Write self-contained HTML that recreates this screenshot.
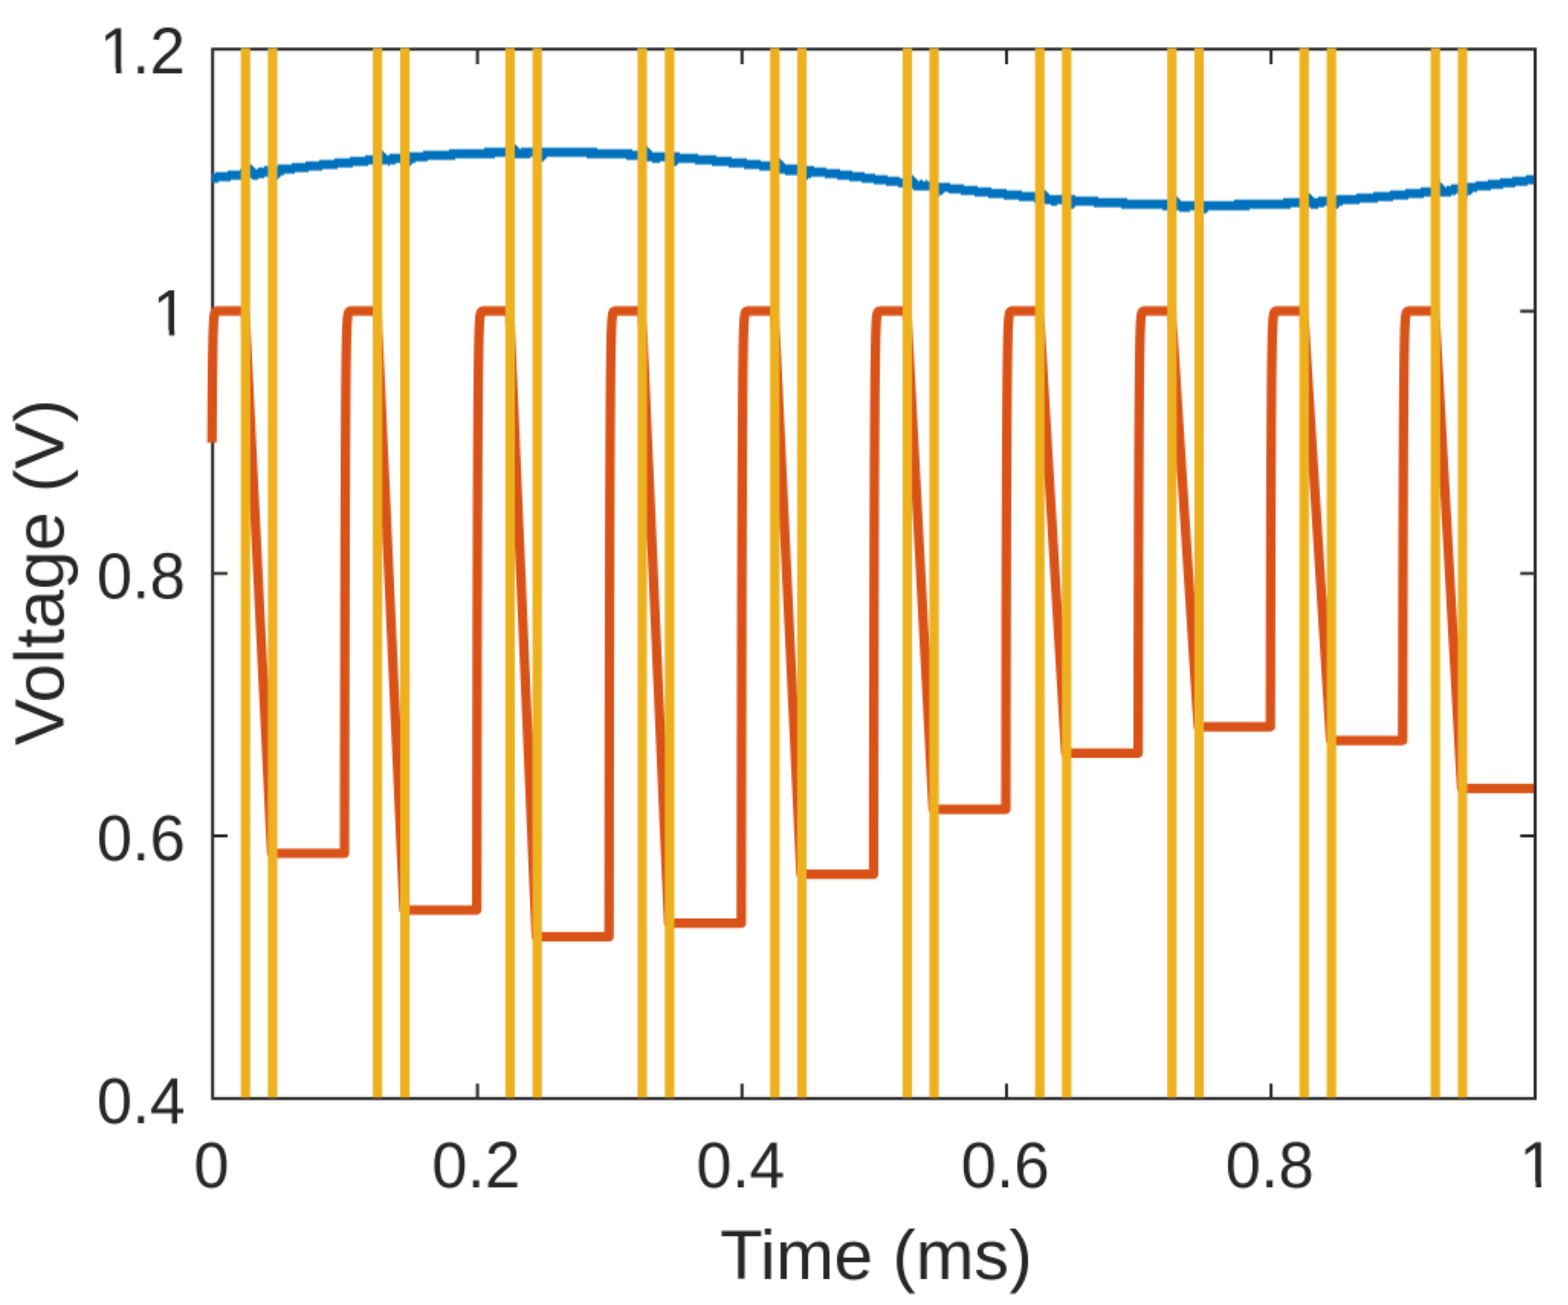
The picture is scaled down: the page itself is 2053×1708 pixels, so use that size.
<!DOCTYPE html>
<html lang="en">
<head>
<meta charset="utf-8">
<title>Voltage vs Time</title>
<style>
html,body{margin:0;padding:0;background:#fff;}
body{width:2053px;height:1708px;overflow:hidden;}
svg{display:block;}
text{font-family:"Liberation Sans",sans-serif;fill:#262626;}
.tk{font-size:83.33px;}
.lb{font-size:91.67px;}
.d{fill:none;stroke-width:12.4;stroke-linejoin:round;stroke-linecap:butt;}
.ax{fill:none;stroke:#262626;stroke-width:3.9;}
</style>
</head>
<body>
<svg width="2053" height="1708" viewBox="0 0 2053 1708">
<defs>
<filter id="soft" x="-4" y="-4" width="2061" height="1716" filterUnits="userSpaceOnUse" primitiveUnits="userSpaceOnUse" color-interpolation-filters="sRGB">
<feConvolveMatrix in="SourceGraphic" order="2" kernelMatrix="1 1 1 1" divisor="4" targetX="1" targetY="1" edgeMode="duplicate" preserveAlpha="true" result="avg"/>
<feFlood x="-3" y="-3" width="1" height="1" flood-color="#000" flood-opacity="1" result="dot"/>
<feComposite in="dot" in2="dot" operator="over" x="-4" y="-4" width="2" height="2" result="cell"/>
<feTile in="cell" x="-4" y="-4" width="2061" height="1716" result="grid"/>
<feComposite in="avg" in2="grid" operator="in" result="samp"/>
<feConvolveMatrix in="samp" order="2" kernelMatrix="1 1 1 1" divisor="1" targetX="0" targetY="0" edgeMode="none" preserveAlpha="false" result="dbl"/>
<feConvolveMatrix in="dbl" order="3" kernelMatrix="1 4 1 4 16 4 1 4 1" divisor="36" edgeMode="duplicate" preserveAlpha="true"/>
</filter>
</defs>
<g filter="url(#soft)">
<rect x="-8" y="-8" width="2069" height="1724" fill="#ffffff"/>
<g class="ax">
<rect x="278.4" y="64.4" width="1731.6" height="1373.3" stroke-linejoin="miter"/>
<path d="M625.16 1437.7 V1418.2 M625.16 64.4 V83.9 M971.52 1437.7 V1418.2 M971.52 64.4 V83.9 M1317.88 1437.7 V1418.2 M1317.88 64.4 V83.9 M1664.24 1437.7 V1418.2 M1664.24 64.4 V83.9 M278.4 1093.95 H297.9 M2010 1093.95 H1990.5 M278.4 750.6 H297.9 M2010 750.6 H1990.5 M278.4 407.25 H297.9 M2010 407.25 H1990.5"/>
</g>
<g class="d">
<path fill="#0072BD" stroke="none" d="M277.5 227.2V227.2 H282V225.2 H298V223.2 H314V221.2 H322V219.2 H324V217.2 H326V215.2 H330V217.2 H332V219.2 H334V221.2 H338V219.2 H346V217.2 H364V215.2 H382V213.2 H400V211.2 H418V209.2 H438V207.2 H458V205.2 H478V203.2 H494V201.2 H496V199.2 H498V197.2 H502V199.2 H504V201.2 H506V203.2 H510V201.2 H526V199.2 H554V197.2 H588V195.2 H634V193.2 H668V191.2 H670V189.2 H672V187.2 H674V189.2 H676V191.2 H678V193.2 H680V195.2 H682V193.2 H782V195.2 H828V197.2 H842V195.2 H844V193.2 H846V191.2 H848V193.2 H850V195.2 H852V197.2 H854V199.2 H890V201.2 H914V203.2 H938V205.2 H958V207.2 H978V209.2 H996V211.2 H1016V209.2 H1018V207.2 H1022V209.2 H1024V211.2 H1026V213.2 H1028V215.2 H1050V217.2 H1066V219.2 H1082V221.2 H1100V223.2 H1116V225.2 H1132V227.2 H1146V229.2 H1162V231.2 H1178V233.2 H1190V231.2 H1192V229.2 H1196V231.2 H1198V233.2 H1200V235.2 H1202V237.2 H1204V235.2 H1208V237.2 H1212V235.2 H1214V237.2 H1228V239.2 H1244V241.2 H1262V243.2 H1280V245.2 H1298V247.2 H1318V249.2 H1338V251.2 H1360V253.2 H1362V251.2 H1364V249.2 H1366V247.2 H1368V249.2 H1370V251.2 H1372V253.2 H1374V255.2 H1408V257.2 H1438V259.2 H1476V261.2 H1536V259.2 H1538V257.2 H1542V259.2 H1544V261.2 H1546V263.2 H1616V261.2 H1680V259.2 H1708V257.2 H1710V255.2 H1712V253.2 H1716V255.2 H1718V257.2 H1720V259.2 H1726V257.2 H1750V255.2 H1776V253.2 H1798V251.2 H1820V249.2 H1840V247.2 H1860V245.2 H1878V243.2 H1882V239.2 H1884V237.2 H1886V239.2 H1888V241.2 H1890V243.2 H1892V245.2 H1894V243.2 H1900V241.2 H1914V239.2 H1932V237.2 H1948V235.2 H1964V233.2 H1980V231.2 H1998V229.2 H2008.3V241.2 H2000V243.2 H1984V245.2 H1968V247.2 H1952V249.2 H1934V251.2 H1928V253.2 H1926V255.2 H1922V257.2 H1918V255.2 H1916V253.2 H1906V255.2 H1900V257.2 H1864V259.2 H1844V261.2 H1824V263.2 H1804V265.2 H1780V267.2 H1758V269.2 H1754V271.2 H1752V273.2 H1748V275.2 H1746V271.2 H1744V269.2 H1734V271.2 H1726V273.2 H1716V271.2 H1690V273.2 H1636V275.2 H1582V277.2 H1580V279.2 H1576V281.2 H1574V279.2 H1572V277.2 H1570V275.2 H1558V277.2 H1544V275.2 H1522V273.2 H1468V271.2 H1432V269.2 H1408V271.2 H1406V273.2 H1400V271.2 H1398V269.2 H1396V267.2 H1384V269.2 H1376V267.2 H1368V265.2 H1354V263.2 H1334V261.2 H1314V259.2 H1294V257.2 H1276V255.2 H1258V253.2 H1242V251.2 H1236V253.2 H1234V255.2 H1230V257.2 H1226V253.2 H1224V251.2 H1222V249.2 H1196V247.2 H1190V245.2 H1176V243.2 H1160V241.2 H1144V239.2 H1128V237.2 H1112V235.2 H1096V233.2 H1080V231.2 H1062V233.2 H1058V235.2 H1054V233.2 H1052V231.2 H1050V229.2 H1028V227.2 H1020V225.2 H1012V223.2 H994V221.2 H974V219.2 H954V217.2 H932V215.2 H910V213.2 H888V215.2 H886V217.2 H880V215.2 H878V213.2 H876V211.2 H864V213.2 H854V211.2 H846V209.2 H820V207.2 H768V205.2 H716V207.2 H714V209.2 H712V211.2 H706V207.2 H704V205.2 H694V207.2 H672V205.2 H648V207.2 H596V209.2 H560V211.2 H544V213.2 H540V215.2 H538V217.2 H532V213.2 H518V215.2 H510V217.2 H508V215.2 H482V217.2 H462V219.2 H442V221.2 H422V223.2 H404V225.2 H386V227.2 H372V229.2 H368V231.2 H366V233.2 H364V235.2 H360V233.2 H358V229.2 H354V231.2 H346V233.2 H338V235.2 H330V233.2 H318V235.2 H302V237.2 H286V239.2 H277.5Z"/>
<path stroke="#D95319" d="M277.5 579.22 L277.73 541.13 L277.95 511.46 L278.18 488.35 L278.4 470.36 L278.62 456.34 L278.85 445.43 L279.07 436.93 L279.3 430.31 L279.52 425.15 L279.75 421.14 L279.98 418.01 L280.2 415.57 L280.43 413.68 L280.65 412.2 L280.88 411.05 L281.1 410.15 L281.32 409.46 L281.55 408.91 L281.77 408.49 L282 408.16 L282.23 407.9 L282.45 407.7 L282.68 407.55 L282.9 407.43 L283.12 407.33 L283.35 407.26 L283.57 407.2 L283.8 407.16 L284.02 407.12 L284.25 407.1 L284.48 407.07 L284.7 407.06 L284.93 407.04 L285.15 407.04 L285.38 407.03 L285.6 407.02 L285.82 407.02 L286.05 407.01 L286.27 407.01 L286.5 407.01 L320.75 407 L355.7 1116.9 L451.08 1116.9 L451.08 1116.9 L451.31 959.87 L451.53 837.58 L451.75 742.33 L451.98 668.16 L452.2 610.39 L452.43 565.4 L452.65 530.36 L452.88 503.07 L453.1 481.82 L453.33 465.27 L453.56 452.38 L453.78 442.34 L454 434.53 L454.23 428.44 L454.45 423.7 L454.68 420 L454.9 417.13 L455.13 414.89 L455.35 413.14 L455.58 411.78 L455.81 410.73 L456.03 409.9 L456.25 409.26 L456.48 408.76 L456.7 408.37 L456.93 408.07 L457.15 407.83 L457.38 407.65 L457.6 407.5 L457.83 407.39 L458.06 407.31 L458.28 407.24 L458.5 407.19 L458.73 407.14 L458.95 407.11 L459.18 407.09 L459.4 407.07 L459.63 407.05 L459.85 407.04 L460.08 407.03 L493.6 407 L529 1191.1 L624.26 1191.1 L624.26 1191.1 L624.49 1017.66 L624.71 882.58 L624.93 777.38 L625.16 695.45 L625.38 631.65 L625.61 581.96 L625.84 543.26 L626.06 513.12 L626.28 489.64 L626.51 471.36 L626.74 457.13 L626.96 446.04 L627.18 437.4 L627.41 430.68 L627.63 425.44 L627.86 421.36 L628.09 418.18 L628.31 415.71 L628.53 413.78 L628.76 412.28 L628.99 411.11 L629.21 410.2 L629.43 409.5 L629.66 408.94 L629.88 408.51 L630.11 408.18 L630.34 407.92 L630.56 407.72 L630.78 407.56 L631.01 407.43 L631.24 407.34 L631.46 407.26 L631.68 407.2 L631.91 407.16 L632.13 407.12 L632.36 407.1 L632.59 407.08 L632.81 407.06 L633.03 407.05 L633.26 407.04 L667.15 407 L702.15 1226 L797.44 1226 L797.44 1226 L797.66 1044.84 L797.89 903.75 L798.11 793.87 L798.34 708.29 L798.56 641.65 L798.79 589.74 L799.01 549.32 L799.24 517.84 L799.46 493.32 L799.69 474.23 L799.91 459.36 L800.14 447.78 L800.36 438.76 L800.59 431.73 L800.81 426.26 L801.04 422 L801.26 418.68 L801.49 416.1 L801.71 414.09 L801.94 412.52 L802.16 411.3 L802.39 410.35 L802.61 409.61 L802.84 409.03 L803.06 408.58 L803.29 408.23 L803.51 407.96 L803.74 407.75 L803.96 407.58 L804.19 407.45 L804.41 407.35 L804.64 407.27 L804.86 407.21 L805.09 407.17 L805.31 407.13 L805.54 407.1 L805.76 407.08 L805.99 407.06 L806.21 407.05 L806.44 407.04 L840.2 407 L875.5 1208.3 L970.62 1208.3 L970.62 1208.3 L970.85 1031.05 L971.07 893.01 L971.29 785.51 L971.52 701.78 L971.75 636.58 L971.97 585.79 L972.2 546.25 L972.42 515.44 L972.64 491.46 L972.87 472.77 L973.1 458.23 L973.32 446.89 L973.54 438.07 L973.77 431.2 L974 425.84 L974.22 421.68 L974.45 418.43 L974.67 415.9 L974.89 413.93 L975.12 412.4 L975.35 411.2 L975.57 410.27 L975.79 409.55 L976.02 408.99 L976.25 408.55 L976.47 408.2 L976.7 407.94 L976.92 407.73 L977.14 407.57 L977.37 407.44 L977.6 407.35 L977.82 407.27 L978.04 407.21 L978.27 407.16 L978.5 407.13 L978.72 407.1 L978.95 407.08 L979.17 407.06 L979.39 407.05 L979.62 407.04 L1013.8 407 L1048.7 1144.3 L1143.8 1144.3 L1143.8 1144.3 L1144.03 981.21 L1144.25 854.2 L1144.48 755.28 L1144.7 678.24 L1144.93 618.24 L1145.15 571.51 L1145.38 535.12 L1145.6 506.78 L1145.83 484.71 L1146.05 467.52 L1146.28 454.13 L1146.5 443.71 L1146.73 435.59 L1146.95 429.26 L1147.18 424.34 L1147.4 420.5 L1147.63 417.52 L1147.85 415.19 L1148.08 413.38 L1148.3 411.97 L1148.53 410.87 L1148.75 410.01 L1148.98 409.35 L1149.2 408.83 L1149.43 408.42 L1149.65 408.11 L1149.88 407.86 L1150.1 407.67 L1150.33 407.52 L1150.55 407.41 L1150.78 407.32 L1151 407.25 L1151.23 407.19 L1151.45 407.15 L1151.68 407.12 L1151.9 407.09 L1152.13 407.07 L1152.35 407.06 L1152.58 407.04 L1152.8 407.03 L1187.3 407 L1221.8 1059.2 L1316.98 1059.2 L1316.98 1059.2 L1317.2 914.93 L1317.43 802.58 L1317.65 715.08 L1317.88 646.93 L1318.11 593.86 L1318.33 552.53 L1318.56 520.34 L1318.78 495.27 L1319.01 475.74 L1319.23 460.54 L1319.45 448.69 L1319.68 439.47 L1319.9 432.29 L1320.13 426.69 L1320.36 422.34 L1320.58 418.95 L1320.81 416.3 L1321.03 414.25 L1321.26 412.64 L1321.48 411.39 L1321.7 410.42 L1321.93 409.67 L1322.15 409.08 L1322.38 408.62 L1322.61 408.26 L1322.83 407.98 L1323.06 407.76 L1323.28 407.59 L1323.51 407.46 L1323.73 407.36 L1323.95 407.28 L1324.18 407.22 L1324.4 407.17 L1324.63 407.13 L1324.86 407.1 L1325.08 407.08 L1325.31 407.06 L1325.53 407.05 L1325.76 407.04 L1325.98 407.03 L1360.7 407 L1395.4 985.8 L1490.16 985.8 L1490.16 985.8 L1490.38 857.77 L1490.61 758.06 L1490.84 680.41 L1491.06 619.93 L1491.29 572.83 L1491.51 536.15 L1491.74 507.58 L1491.96 485.33 L1492.19 468.01 L1492.41 454.51 L1492.63 444 L1492.86 435.82 L1493.09 429.44 L1493.31 424.48 L1493.54 420.61 L1493.76 417.6 L1493.99 415.26 L1494.21 413.43 L1494.44 412.01 L1494.66 410.9 L1494.88 410.04 L1495.11 409.37 L1495.34 408.84 L1495.56 408.43 L1495.79 408.12 L1496.01 407.87 L1496.24 407.68 L1496.46 407.53 L1496.69 407.41 L1496.91 407.32 L1497.13 407.25 L1497.36 407.19 L1497.59 407.15 L1497.81 407.12 L1498.04 407.09 L1498.26 407.07 L1498.49 407.06 L1498.71 407.04 L1498.94 407.03 L1499.16 407.03 L1533.8 407 L1568.8 951.2 L1663.34 951.2 L1663.34 951.2 L1663.57 830.82 L1663.79 737.07 L1664.02 664.06 L1664.24 607.2 L1664.47 562.92 L1664.69 528.43 L1664.92 501.57 L1665.14 480.65 L1665.37 464.36 L1665.59 451.67 L1665.82 441.79 L1666.04 434.09 L1666.27 428.1 L1666.49 423.43 L1666.72 419.8 L1666.94 416.97 L1667.17 414.76 L1667.39 413.05 L1667.62 411.71 L1667.84 410.67 L1668.07 409.86 L1668.29 409.22 L1668.52 408.73 L1668.74 408.35 L1668.97 408.05 L1669.19 407.82 L1669.42 407.64 L1669.64 407.5 L1669.87 407.39 L1670.09 407.3 L1670.32 407.23 L1670.54 407.18 L1670.77 407.14 L1670.99 407.11 L1671.22 407.09 L1671.44 407.07 L1671.67 407.05 L1671.89 407.04 L1672.12 407.03 L1672.34 407.02 L1706.8 407 L1742.1 969.2 L1836.52 969.2 L1836.52 969.2 L1836.75 844.84 L1836.97 747.99 L1837.2 672.56 L1837.42 613.82 L1837.65 568.07 L1837.87 532.44 L1838.1 504.7 L1838.32 483.09 L1838.55 466.26 L1838.77 453.15 L1839 442.94 L1839.22 434.99 L1839.45 428.8 L1839.67 423.98 L1839.9 420.22 L1840.12 417.3 L1840.35 415.02 L1840.57 413.25 L1840.8 411.86 L1841.02 410.79 L1841.25 409.95 L1841.47 409.3 L1841.7 408.79 L1841.92 408.39 L1842.15 408.09 L1842.37 407.85 L1842.6 407.66 L1842.82 407.51 L1843.05 407.4 L1843.27 407.31 L1843.5 407.24 L1843.72 407.19 L1843.95 407.15 L1844.17 407.11 L1844.4 407.09 L1844.62 407.07 L1844.85 407.05 L1845.07 407.04 L1845.3 407.03 L1845.52 407.03 L1878.7 407 L1913.7 1032 L2008.3 1032"/>
<path stroke="#EDB120" d="M321.45 63.2 V1436.6 M356.9 63.2 V1436.6 M494.3 63.2 V1436.6 M530.2 63.2 V1436.6 M667.85 63.2 V1436.6 M703.35 63.2 V1436.6 M840.9 63.2 V1436.6 M876.7 63.2 V1436.6 M1014.5 63.2 V1436.6 M1049.9 63.2 V1436.6 M1188 63.2 V1436.6 M1223 63.2 V1436.6 M1361.4 63.2 V1436.6 M1396.6 63.2 V1436.6 M1534.5 63.2 V1436.6 M1570 63.2 V1436.6 M1707.5 63.2 V1436.6 M1743.3 63.2 V1436.6 M1879.4 63.2 V1436.6 M1914.9 63.2 V1436.6"/>
</g>
<g class="tk" text-anchor="middle">
<text text-anchor="start" x="-23.17" transform="translate(277 1553.5) scale(1 1.025)">0</text>
<text text-anchor="start" x="-57.92" transform="translate(623.36 1553.5) scale(1 1.025)">0.2</text>
<text text-anchor="start" x="-57.92" transform="translate(969.72 1553.5) scale(1 1.025)">0.4</text>
<text text-anchor="start" x="-57.92" transform="translate(1316.08 1553.5) scale(1 1.025)">0.6</text>
<text text-anchor="start" x="-57.92" transform="translate(1662.44 1553.5) scale(1 1.025)">0.8</text>
<clipPath id="cx5" clipPathUnits="userSpaceOnUse"><path clip-rule="evenodd" d="M-400 -200H400V200H-400Z M-33.17 -7.2H2.03V30H-33.17Z M9.13 -7.2H26.43V30H9.13Z"/></clipPath>
<text clip-path="url(#cx5)" text-anchor="start" x="-19.57" transform="translate(2008.8 1553.5) scale(1 1.025)">1</text>
</g>
<g class="tk" text-anchor="end">
<text text-anchor="start" x="-115.84" transform="translate(242.5 1469.5) scale(1 1.025)">0.4</text>
<text text-anchor="start" x="-115.84" transform="translate(242.5 1126.15) scale(1 1.025)">0.6</text>
<text text-anchor="start" x="-115.84" transform="translate(242.5 782.8) scale(1 1.025)">0.8</text>
<clipPath id="cy3" clipPathUnits="userSpaceOnUse"><path clip-rule="evenodd" d="M-400 -200H400V200H-400Z M-56.34 -7.2H-21.14V30H-56.34Z M-14.04 -7.2H3.26V30H-14.04Z"/></clipPath>
<text clip-path="url(#cy3)" text-anchor="start" x="-42.74" transform="translate(242.5 439.45) scale(1 1.025)">1</text>
<clipPath id="cy4" clipPathUnits="userSpaceOnUse"><path clip-rule="evenodd" d="M-400 -200H400V200H-400Z M-125.84 -7.2H-90.64V30H-125.84Z M-83.54 -7.2H-66.24V30H-83.54Z"/></clipPath>
<text clip-path="url(#cy4)" text-anchor="start" x="-112.24 -69.5 -46.34" transform="translate(242.5 96.1) scale(1 1.025)">1.2</text>
</g>
<text class="lb" text-anchor="middle" x="1147.2" y="1673.6">Time (ms)</text>
<text class="lb" text-anchor="middle" transform="translate(83.3 749) rotate(-90)">Voltage (V)</text>
</g>
</svg>
</body>
</html>
